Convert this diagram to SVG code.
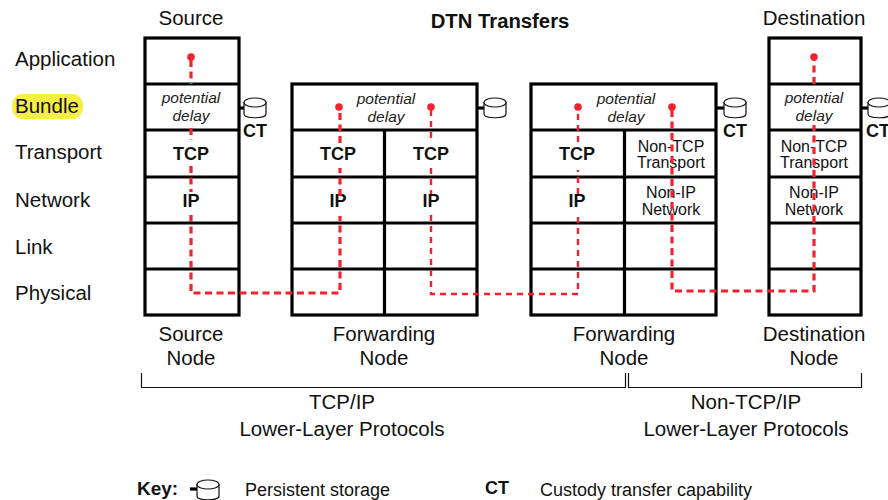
<svg xmlns="http://www.w3.org/2000/svg" xmlns:xlink="http://www.w3.org/1999/xlink" width="888" height="500" viewBox="0 0 888 500">
<style>
text{font-family:"Liberation Sans",Arial,sans-serif;fill:#111;text-anchor:middle}
.l{font-size:20.500px}
.s{font-size:16px}
.b{font-size:18px;font-weight:bold}
.i{font-size:15.500px;font-style:italic;fill:#222}
.k{font-size:18px}
.st{text-anchor:start}
.box{fill:#fff;stroke:#000;stroke-width:3.2}
.ln{stroke:#000;stroke-width:3.2;fill:none}
.thin{stroke:#111;stroke-width:1.2;fill:none}
.cyl{fill:#fff;stroke:#111;stroke-width:1.2}
.r{stroke:#f5222d;stroke-width:3.2;fill:none;stroke-dasharray:7 4.5}
.r2{stroke:#f5222d;stroke-width:2.4;fill:none;stroke-dasharray:6 5}
.d{fill:#f5222d}
</style>
<defs>
<g id="cyl">
<path class="cyl" d="M0 4V16C0 21 22 21 22 16V4"/>
<ellipse class="cyl" cx="11" cy="4.500" rx="11" ry="4.500"/>
</g>
</defs>
<rect width="888" height="500" fill="#fff"/>
<g id="layer-labels">
<text class="l st" x="15" y="66">Application</text>
<rect x="12" y="94" width="71" height="25" rx="11" fill="#f4ee45"/>
<text class="l st" x="15" y="113">Bundle</text>
<text class="l st" x="15" y="159">Transport</text>
<text class="l st" x="15" y="207">Network</text>
<text class="l st" x="15" y="254">Link</text>
<text class="l st" x="15" y="300">Physical</text>
</g>
<g id="title"><text x="500" y="28" class="b" style="font-size:20.300px">DTN Transfers</text></g>
<g id="source-node">
<text class="l" x="191" y="25">Source</text>
<rect class="box" x="145" y="38" width="94" height="277"/>
<path class="ln" d="M145 84H239M145 130H239M145 177H239M145 223H239M145 269H239"/>
<text class="i" x="191" y="103">potential</text><text class="i" x="191" y="121">delay</text>
<text class="b" x="191" y="160">TCP</text>
<text class="b" x="191" y="207">IP</text>
<path class="ln" d="M239 108H244"/>
<use xlink:href="#cyl" x="244" y="98"/>
<text class="b" x="255" y="137">CT</text>
<text class="l" x="191" y="341">Source</text><text class="l" x="191" y="365">Node</text>
</g>
<g id="forwarding-node-1">
<rect class="box" x="292" y="84" width="185" height="231"/>
<path class="ln" d="M292 130H477M292 177H477M292 223H477M292 269H477M384.500 130V315"/>
<text class="i" x="386" y="104">potential</text><text class="i" x="386" y="122">delay</text>
<text class="b" x="338" y="160">TCP</text><text class="b" x="431" y="160">TCP</text>
<text class="b" x="338" y="207">IP</text><text class="b" x="431" y="207">IP</text>
<path class="ln" d="M477 108H484"/>
<use xlink:href="#cyl" x="484" y="98"/>
<text class="l" x="384" y="341">Forwarding</text><text class="l" x="384" y="365">Node</text>
</g>
<g id="forwarding-node-2">
<rect class="box" x="531" y="84" width="185" height="231"/>
<path class="ln" d="M531 130H716M531 177H716M531 223H716M531 269H716M624.500 130V315"/>
<text class="i" x="626" y="104">potential</text><text class="i" x="626" y="122">delay</text>
<text class="b" x="577" y="160">TCP</text>
<text class="b" x="577" y="207">IP</text>
<text class="s" x="671" y="152">Non-TCP</text><text class="s" x="671" y="168">Transport</text>
<text class="s" x="671" y="198">Non-IP</text><text class="s" x="671" y="215">Network</text>
<path class="ln" d="M716 108H724"/>
<use xlink:href="#cyl" x="724" y="98"/>
<text class="b" x="735" y="137">CT</text>
<text class="l" x="624" y="341">Forwarding</text><text class="l" x="624" y="365">Node</text>
</g>
<g id="destination-node">
<text class="l" x="814" y="25">Destination</text>
<rect class="box" x="769" y="38" width="92" height="277"/>
<path class="ln" d="M769 84H861M769 130H861M769 177H861M769 223H861M769 269H861"/>
<text class="i" x="814" y="103">potential</text><text class="i" x="814" y="121">delay</text>
<text class="s" x="814" y="152">Non-TCP</text><text class="s" x="814" y="168">Transport</text>
<text class="s" x="814" y="198">Non-IP</text><text class="s" x="814" y="215">Network</text>
<path class="ln" d="M861 108H868"/>
<use xlink:href="#cyl" x="868" y="98"/>
<text class="b" x="878" y="137">CT</text>
<text class="l" x="814" y="341">Destination</text><text class="l" x="814" y="365">Node</text>
</g>
<g id="connectors">
<circle class="d" cx="191" cy="57" r="3.800"/>
<path class="r" d="M191 60V84M191 128V140M191 166V192M191 215V293H340V216M340 196V168M340 143V106"/>
<circle class="d" cx="339" cy="107" r="3.800"/>
<circle class="d" cx="431" cy="107" r="3.800"/>
<path class="r2" d="M431 110V143M431 168V194M431 215V294H578V216M578 194V170M578 142V107"/>
<circle class="d" cx="578" cy="107" r="3.800"/>
<circle class="d" cx="672" cy="107" r="3.800"/>
<path class="r" d="M672 110V291H814V125M814 84V60"/>
<circle class="d" cx="814" cy="57" r="3.800"/>
</g>
<g id="brackets">
<path class="thin" d="M141.500 373V387.500H625.500V373"/>
<path class="thin" d="M628.500 373V387.500H861.500V373"/>
<text class="l" x="342" y="409">TCP/IP</text><text class="l" x="342" y="436">Lower-Layer Protocols</text>
<text class="l" x="746" y="409">Non-TCP/IP</text><text class="l" x="746" y="436">Lower-Layer Protocols</text>
</g>
<g id="key">
<text class="b st" style="font-size:19px" x="137" y="495">Key:</text>
<path class="ln" d="M190 489H198"/>
<use xlink:href="#cyl" x="197" y="480"/>
<text class="k st" x="245" y="496">Persistent storage</text>
<text class="b st" x="485" y="494">CT</text>
<text class="k st" x="540" y="496">Custody transfer capability</text>
</g>
</svg>
